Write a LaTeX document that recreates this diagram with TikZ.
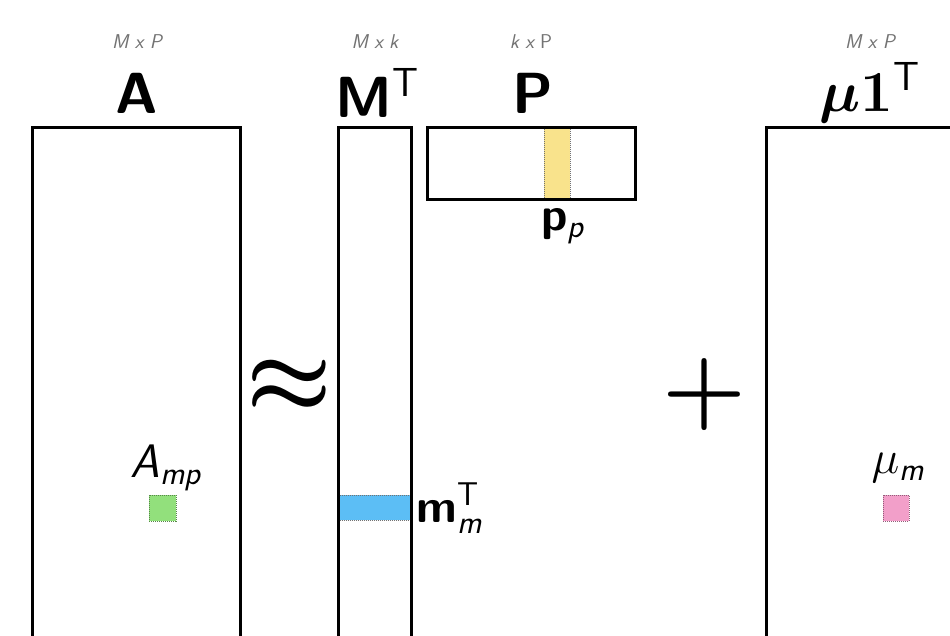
\RequirePackage{fix-cm}
\documentclass[tikz,border=0pt]{standalone}
\usepackage{amsmath,bm}
\begin{document}
\begin{tikzpicture}[x=1pt,y=-1pt,
  mat/.style={draw=black,line width=3pt},
  dim/.style={text=black!55,font=\fontsize{20}{20}\selectfont\sffamily\itshape},
  title/.style={font=\fontsize{58}{58}\selectfont\sffamily\bfseries},
  lab/.style={font=\fontsize{47}{47}\selectfont\sffamily},
  op/.style={font=\fontsize{96}{96}\selectfont},
  dots/.style={densely dotted,line width=1pt}]
\useasboundingbox (0,0) rectangle (950,635);
\clip (0,0) rectangle (950,635);
\definecolor{cy}{HTML}{F9E38C}
\definecolor{cb}{HTML}{5CBEF5}
\definecolor{cg}{HTML}{92E07C}
\definecolor{cp}{HTML}{F29FC9}
% matrices
\draw[mat] (32,127) rectangle (240,680);
\draw[mat] (338,127) rectangle (411,680);
\draw[mat] (427,127) rectangle (635,199);
\draw[mat] (766,127) rectangle (990,680);
% highlights
\fill[cy] (544,128.5) rectangle (570,197.5);
\draw[dots,black!55] (544,128.5) -- (544,197.5) (570,128.5) -- (570,197.5);
\fill[cb] (339.5,495) rectangle (409.5,520);
\draw[dots,black!55] (339.5,495) -- (409.5,495) (339.5,520) -- (409.5,520);
\draw[dots,fill=cg,draw=cg!60!black] (149,495) rectangle (176,521);
\draw[dots,fill=cp,draw=cp!60!black] (883,495) rectangle (909,521);
% dimension labels
\node[dim] (dA) at (137,42) {M x P};
\node[dim] (dM) at (375,42) {M x k};
\node[dim] (dP) at (531,42) {k x \upshape P};
\node[dim] (dU) at (870,42) {M x P};
% titles
\node[title] (tA) at (137,93) {A};
\node[title] (tM) at (377,93) {M\textsuperscript{\mdseries T}};
\node[title] (tP) at (533,93) {P};
\node[font=\fontsize{58}{58}\selectfont] (tU) at (870,93) {$\bm{\mu}\mathbf{1}^{\text{\sffamily T}}$};
% operators
\node[op] (approx) at (289,386) {$\bm{\approx}$};
\node[op] (plus) at (704,394) {$\bm{+}$};
% element labels
\node[lab] (lA) at (166,468) {\itshape A\textsubscript{mp}};
\node[lab,anchor=west] (lm) at (413,508) {\bfseries m$^{\text{\sffamily\mdseries T}}_{\text{\sffamily\mdseries\itshape m}}$};
\node[lab] (lp) at (563,226) {\bfseries p\textsubscript{\itshape\mdseries p}};
\node[lab] (lu) at (898,468) {$\mu$\textsubscript{\itshape m}};
\end{tikzpicture}
\end{document}
